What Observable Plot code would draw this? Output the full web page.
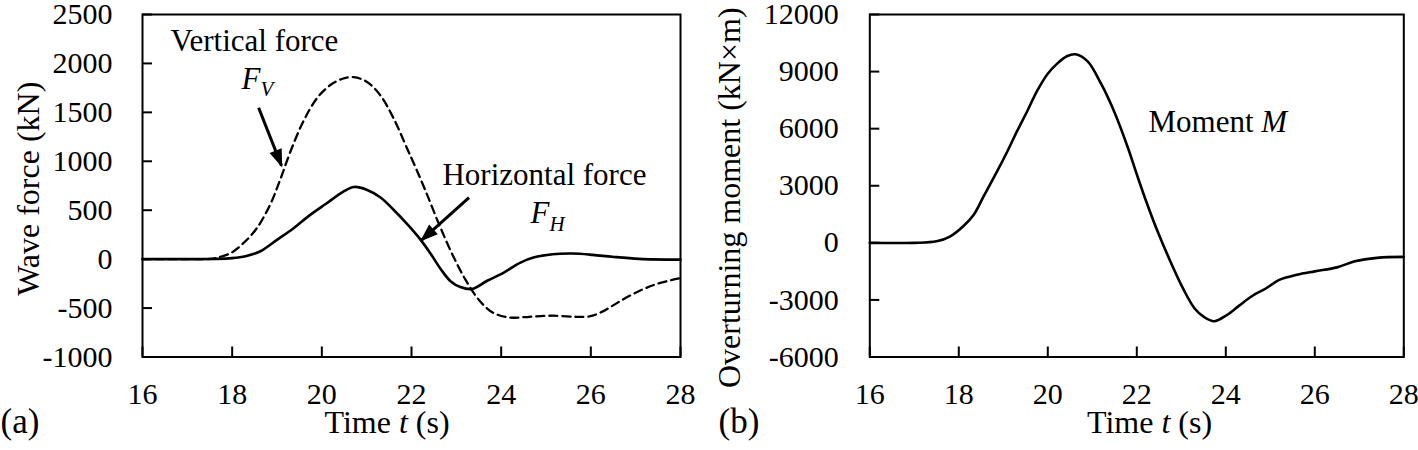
<!DOCTYPE html>
<html>
<head>
<meta charset="utf-8">
<script src="https://cdn.jsdelivr.net/npm/d3@7"></script>
<script src="https://cdn.jsdelivr.net/npm/@observablehq/plot@0.6"></script>
<style>
  body { margin: 0; background: #fff; }
  #wrap { position: relative; width: 1418px; height: 450px; overflow: hidden; background: #fff; }
  #panelA { position: absolute; left: 0; top: 0; }
  #panelB { position: absolute; left: 700px; top: 0; }
  svg text { font-family: "Liberation Serif", "Times New Roman", serif; }
</style>
</head>
<body>
<div id="wrap"><div id="panelA"></div><div id="panelB"></div></div>
<script>
// ---------- data ----------
const timeTicks = [16, 18, 20, 22, 24, 26, 28];
const forceTicks = [-1000, -500, 0, 500, 1000, 1500, 2000, 2500];
const momentTicks = [-6000, -3000, 0, 3000, 6000, 9000, 12000];

// Horizontal force F_H (solid)
const hTime = [16, 17, 17.6, 18.0, 18.3, 18.62, 19.0, 19.37, 19.74, 20.11, 20.48, 20.72, 21.0, 21.31, 21.61, 21.90, 22.20, 22.42, 22.65, 22.87, 23.09, 23.35, 23.69, 24.06, 24.43, 24.72, 25.15, 25.59, 26.04, 26.48, 27.08, 28.0];
const hForce = [0, 0, 2, 10, 30, 78, 197, 316, 452, 571, 690, 738, 710, 630, 500, 360, 200, 60, -100, -225, -285, -305, -221, -137, -35, 16, 50, 57, 44, 24, 3, -5];

// Vertical force F_V (dashed)
const vTime = [16, 17, 17.5, 17.66, 17.96, 18.25, 18.55, 18.85, 19.07, 19.30, 19.59, 19.89, 20.19, 20.48, 20.71, 21.0, 21.30, 21.6, 21.9, 22.05, 22.32, 22.62, 22.92, 23.21, 23.51, 23.81, 24.18, 24.63, 25.15, 25.67, 25.97, 26.27, 26.64, 27.09, 27.53, 28.0];
const vForce = [0, 0, 2, 15, 60, 163, 316, 560, 810, 1100, 1410, 1643, 1779, 1846, 1860, 1813, 1677, 1439, 1133, 980, 690, 350, 40, -215, -420, -545, -596, -589, -578, -589, -585, -534, -432, -323, -245, -194];

// Overturning moment M
const mTime = [16, 17, 17.5, 17.8, 18.1, 18.34, 18.56, 18.86, 19.09, 19.31, 19.54, 19.76, 19.99, 20.21, 20.44, 20.62, 20.89, 21.2, 21.5, 21.8, 22.0, 22.2, 22.45, 22.75, 23.05, 23.3, 23.5, 23.74, 24.02, 24.3, 24.6, 24.9, 25.2, 25.6, 26.0, 26.5, 26.9, 27.4, 28];
const moment = [0, 0, 80, 330, 870, 1490, 2450, 3750, 4800, 5870, 6930, 7980, 8860, 9420, 9820, 9910, 9550, 8350, 6850, 5000, 3600, 2250, 700, -950, -2450, -3450, -3880, -4120, -3800, -3300, -2780, -2400, -1950, -1680, -1500, -1290, -970, -790, -740];

// annotations (data coordinates)
const labelsA = [
  {t: 16.625, v: 2126, label: "Vertical force"},
  {t: 18.21, v: 1738, label: "F_V"},
  {t: 22.69, v: 758, label: "Horizontal force"},
  {t: 24.655, v: 370, label: "F_H"}
];
const arrowsA = [
  {t1: 18.59, v1: 1547, t2: 19.10, v2: 956},
  {t1: 23.283, v1: 629, t2: 22.224, v2: 195}
];
const labelsB = [{t: 22.263, v: 5805, label: "Moment M"}];

// ---------- helpers ----------
const FONT = '"Liberation Serif", "Times New Roman", serif';
const fmt = d => (d < 0 ? "-" + Math.abs(d) : String(d));
const rich = {
  "Time t (s)": 'Time <tspan font-style="italic">t</tspan> (s)',
  "F_V": '<tspan font-style="italic">F</tspan><tspan font-style="italic" font-size="21" dy="7">V</tspan>',
  "F_H": '<tspan font-style="italic">F</tspan><tspan font-style="italic" font-size="21" dy="8">H</tspan>',
  "Moment M": 'Moment <tspan font-style="italic">M</tspan>'
};
function finish(svg) {
  const s = d3.select(svg);
  s.selectAll("text").each(function () {
    const c = this.textContent;
    if (rich[c]) this.innerHTML = rich[c];
  });
  s.selectAll("marker").each(function () {
    const m = d3.select(this);
    m.selectAll("*").remove();
    m.attr("viewBox", "-18 -8 20 16")
      .attr("markerWidth", 20).attr("markerHeight", 16)
      .attr("markerUnits", "userSpaceOnUse")
      .attr("refX", 0).attr("refY", 0)
      .attr("fill", "#000").attr("stroke", "none")
      .style("overflow", "visible");
    m.append("path").attr("d", "M-16,-6.5L2,0L-16,6.5Z");
  });
  return svg;
}

const H = 450, MT = 14, MB = 93.5;
const plotH = H - MT - MB;

// ---------- panel (a) ----------
const wA = 700, mlA = 142, mrA = 20;
const plotWA = wA - mlA - mrA;
const hData = hTime.map((t, i) => ({t, v: hForce[i]}));
const vData = vTime.map((t, i) => ({t, v: vForce[i]}));

const plotA = Plot.plot({
  width: wA, height: H,
  marginLeft: mlA, marginRight: mrA, marginTop: MT, marginBottom: MB,
  style: {fontFamily: FONT, fontSize: "30px", color: "#000", background: "#fff", overflow: "visible"},
  x: {domain: [16, 28]},
  y: {domain: [-1000, 2500]},
  marks: [
    Plot.axisX(timeTicks, {anchor: "bottom", tickSize: 0, tickPadding: 26, label: null, fontSize: 30, tickFormat: fmt}),
    Plot.axisY(forceTicks, {anchor: "left", tickSize: 0, tickPadding: 30, label: null, fontSize: 30, tickFormat: fmt}),
    Plot.tickX(timeTicks, {x: d => d, insetTop: plotH - 10, stroke: "#000", strokeWidth: 2}),
    Plot.tickY(forceTicks, {y: d => d, insetRight: plotWA - 10, stroke: "#000", strokeWidth: 2}),
    Plot.line(vData, {x: "t", y: "v", stroke: "#000", strokeWidth: 2.3, strokeDasharray: "8,5", curve: "catmull-rom"}),
    Plot.line(hData, {x: "t", y: "v", stroke: "#000", strokeWidth: 2.6, curve: "catmull-rom"}),
    Plot.link(arrowsA, {x1: "t1", y1: "v1", x2: "t2", y2: "v2", stroke: "#000", strokeWidth: 3, markerEnd: "arrow"}),
    Plot.text(labelsA, {x: "t", y: "v", text: "label", textAnchor: "start", lineAnchor: "bottom", fontSize: 31, fill: "#000"}),
    Plot.text(["Time t (s)"], {text: d => d, frameAnchor: "bottom", dx: -24.5, dy: 75.5, lineAnchor: "bottom", fontSize: 32, fill: "#000"}),
    Plot.text(["Wave force (kN)"], {text: d => d, frameAnchor: "left", rotate: -90, dx: -104, dy: 3, lineAnchor: "bottom", textAnchor: "middle", fontSize: 32, fill: "#000"}),
    Plot.text(["(a)"], {text: d => d, frameAnchor: "bottom-left", dx: -mlA, dy: 76, textAnchor: "start", lineAnchor: "bottom", fontSize: 35, fill: "#000"}),
    Plot.frame({stroke: "#000", strokeWidth: 2})
  ]
});
document.getElementById("panelA").append(finish(plotA));

// ---------- panel (b) ----------
const wB = 718, mlB = 169.3, mrB = 14.7;
const plotWB = wB - mlB - mrB;
const mData = mTime.map((t, i) => ({t, v: moment[i]}));

const plotB = Plot.plot({
  width: wB, height: H,
  marginLeft: mlB, marginRight: mrB, marginTop: MT, marginBottom: MB,
  style: {fontFamily: FONT, fontSize: "30px", color: "#000", background: "#fff", overflow: "visible"},
  x: {domain: [16, 28]},
  y: {domain: [-6000, 12000]},
  marks: [
    Plot.axisX(timeTicks, {anchor: "bottom", tickSize: 0, tickPadding: 26, label: null, fontSize: 30, tickFormat: fmt}),
    Plot.axisY(momentTicks, {anchor: "left", tickSize: 0, tickPadding: 31, label: null, fontSize: 30, tickFormat: fmt}),
    Plot.tickX(timeTicks, {x: d => d, insetTop: plotH - 10, stroke: "#000", strokeWidth: 2}),
    Plot.tickY(momentTicks, {y: d => d, insetRight: plotWB - 10, stroke: "#000", strokeWidth: 2}),
    Plot.line(mData, {x: "t", y: "v", stroke: "#000", strokeWidth: 2.6, curve: "catmull-rom"}),
    Plot.text(labelsB, {x: "t", y: "v", text: "label", textAnchor: "start", lineAnchor: "bottom", fontSize: 31, fill: "#000"}),
    Plot.text(["Time t (s)"], {text: d => d, frameAnchor: "bottom", dx: 12.7, dy: 75.5, lineAnchor: "bottom", fontSize: 32, fill: "#000"}),
    Plot.text(["Overturning moment (kN×m)"], {text: d => d, frameAnchor: "left", rotate: -90, dx: -130.3, dy: 12, lineAnchor: "bottom", textAnchor: "middle", fontSize: 32, fill: "#000"}),
    Plot.text(["(b)"], {text: d => d, frameAnchor: "bottom-left", dx: 18 - mlB, dy: 76, textAnchor: "start", lineAnchor: "bottom", fontSize: 35, fill: "#000"}),
    Plot.frame({stroke: "#000", strokeWidth: 2})
  ]
});
document.getElementById("panelB").append(finish(plotB));
</script>
</body>
</html>
